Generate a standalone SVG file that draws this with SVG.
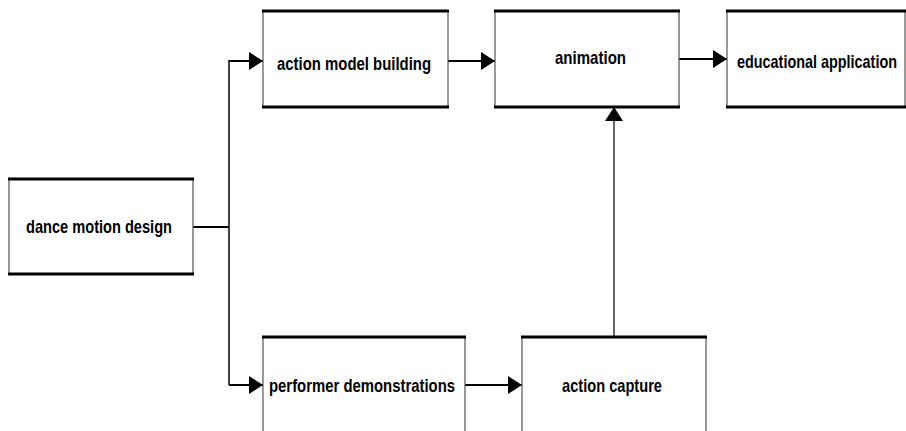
<svg xmlns="http://www.w3.org/2000/svg" width="906" height="431" viewBox="0 0 906 431">
<style>
.box{fill:#fff;stroke:#555;stroke-width:1.2}
.edge{stroke:#000;stroke-width:3}
.lbl{font-family:"Liberation Sans",Arial,sans-serif;font-weight:bold;font-size:19px;fill:#000}
.conn{stroke:#000;fill:none}
</style>
<defs>
<marker id="arr" markerUnits="userSpaceOnUse" markerWidth="14" markerHeight="18" refX="14" refY="9" orient="auto">
<path d="M0,0 L14,9 L0,18 Z" fill="#000"/>
</marker>
</defs>
<rect width="906" height="431" fill="#fff"/>
<g id="connectors">
<path class="conn" stroke-width="2" d="M193,227 H229"/>
<path class="conn" stroke-width="1.5" d="M229,60 V385"/>
<path class="conn" stroke-width="2" d="M229,61 H263" marker-end="url(#arr)"/>
<path class="conn" stroke-width="2" d="M229,385 H263" marker-end="url(#arr)"/>
<path class="conn" stroke-width="2" d="M448,61 H495" marker-end="url(#arr)"/>
<path class="conn" stroke-width="2" d="M679,59 H727" marker-end="url(#arr)"/>
<path class="conn" stroke-width="2" d="M465,385 H522" marker-end="url(#arr)"/>
<path class="conn" stroke-width="1.2" d="M614,337 V107" marker-end="url(#arr)"/>
</g>
<g id="dance">
<rect class="box" x="9" y="179" width="184" height="95"/>
<line class="edge" x1="8" y1="179" x2="194" y2="179"/><line class="edge" x1="8" y1="274" x2="194" y2="274"/>
<text class="lbl" x="26" y="233" textLength="146" lengthAdjust="spacingAndGlyphs">dance motion design</text>
</g>
<g id="model">
<rect class="box" x="263" y="11" width="185" height="96"/>
<line class="edge" x1="262" y1="11" x2="449" y2="11"/><line class="edge" x1="262" y1="107" x2="449" y2="107"/>
<text class="lbl" x="277" y="70" textLength="154" lengthAdjust="spacingAndGlyphs">action model building</text>
</g>
<g id="animation">
<rect class="box" x="495" y="11" width="184" height="96"/>
<line class="edge" x1="494" y1="11" x2="680" y2="11"/><line class="edge" x1="494" y1="107" x2="680" y2="107"/>
<text class="lbl" x="555" y="64" textLength="71" lengthAdjust="spacingAndGlyphs">animation</text>
</g>
<g id="education">
<rect class="box" x="727" y="11" width="178" height="96"/>
<line class="edge" x1="726" y1="11" x2="906" y2="11"/><line class="edge" x1="726" y1="107" x2="906" y2="107"/>
<text class="lbl" x="737" y="68" textLength="160" lengthAdjust="spacingAndGlyphs">educational application</text>
</g>
<g id="performer">
<rect class="box" x="263" y="337" width="202" height="100"/>
<line class="edge" x1="262" y1="337" x2="466" y2="337"/>
<text class="lbl" x="269" y="392" textLength="186" lengthAdjust="spacingAndGlyphs">performer demonstrations</text>
</g>
<g id="capture">
<rect class="box" x="522" y="337" width="184" height="100"/>
<line class="edge" x1="521" y1="337" x2="707" y2="337"/>
<text class="lbl" x="562" y="392" textLength="100" lengthAdjust="spacingAndGlyphs">action capture</text>
</g>
</svg>
